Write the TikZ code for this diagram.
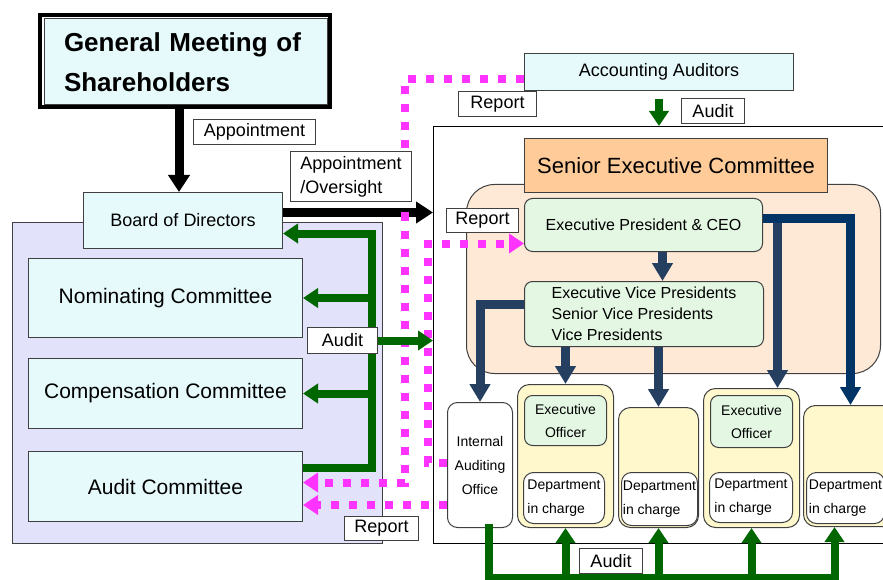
\documentclass[tikz,border=0pt]{standalone}
\usepackage{fontspec}
\setmainfont{Liberation Sans}
\usetikzlibrary{arrows.meta}
\newcommand\fsz[2]{\fontsize{#1}{#2}\selectfont}
\definecolor{paleblue}{HTML}{E6FAFC}
\definecolor{lavender}{HTML}{E2E2FA}
\definecolor{peach}{HTML}{FDE9D6}
\definecolor{orangebg}{HTML}{FFCC99}
\definecolor{palegreen}{HTML}{E3F7E3}
\definecolor{paleyellow}{HTML}{FFF8CC}
\definecolor{auditgreen}{HTML}{006600}
\definecolor{reportpink}{HTML}{FF33FF}
\definecolor{navy}{HTML}{243F60}
\definecolor{darknavy}{HTML}{003366}
\definecolor{edge}{HTML}{404040}
\tikzset{
  block/.style={draw=edge, fill=paleblue, anchor=north west, inner sep=0pt},
  roundblock/.style={block, fill=palegreen, rounded corners=8pt},
  unitbox/.style={block, fill=paleyellow, rounded corners=12pt},
  deptbox/.style={block, fill=white, rounded corners=10pt, align=left, font=\fsz{14}{24}},
  tag/.style={block, fill=white, font=\fsz{18}{24}},
  shaft/.style={line width=9pt, -{Triangle[width=21pt,length=17pt]}},
  audit/.style={auditgreen, line width=8pt},
  auditarrow/.style={audit, -{Triangle[width=19pt,length=15pt]}},
  mgmt/.style={navy, line width=9pt, -{Triangle[width=20pt,length=18pt]}},
  report/.style={reportpink, line width=8pt, dash pattern=on 8pt off 10pt, -{Triangle[width=19pt,length=15pt]}}
}
\begin{document}
\begin{tikzpicture}[x=1pt, y=-1pt, line width=1pt]
\useasboundingbox (0,0) rectangle (883,580);

\node[draw=edge, fill=lavender, anchor=north west, minimum width=370pt, minimum height=321pt] (cmtarea) at (12,222) {};
\node[draw=black, anchor=north west, minimum width=480pt, minimum height=417pt] (exec) at (433,126) {};
\node[draw=edge, fill=peach, rounded corners=28pt, anchor=north west, minimum width=414pt, minimum height=189pt] (secarea) at (466,184) {};

\node[block, minimum width=283pt, minimum height=85.5pt, text width=243pt, inner xsep=20pt, align=left, font=\fsz{26}{40}\bfseries] (gm) at (43.5,18.5) {General Meeting of\\Shareholders};
\draw[line width=4pt] ([shift={(-3.5,-3.5)}]gm.north west) rectangle ([shift={(2.5,2)}]gm.south east);

\node[block, minimum width=199pt, minimum height=56pt, font=\fsz{18}{22}] (bod) at (83,192) {Board of Directors};
\node[block, minimum width=274pt, minimum height=79pt, font=\fsz{21}{25}] (nom) at (28,258) {Nominating Committee};
\node[block, minimum width=274pt, minimum height=70pt, font=\fsz{21}{25}] (comp) at (28,358) {Compensation Committee};
\node[block, minimum width=274pt, minimum height=70pt, font=\fsz{21}{25}] (audc) at (28,451) {Audit Committee};

\node[block, minimum width=269pt, minimum height=37pt, font=\fsz{18}{22}] (acc) at (524,53) {Accounting Auditors};
\node[block, fill=orangebg, minimum width=303pt, minimum height=54pt, font=\fsz{22}{26}] (sec) at (524,138) {Senior Executive Committee};
\node[roundblock, minimum width=238pt, minimum height=53pt, font=\fsz{16}{20}] (ceo) at (524,198) {Executive President \& CEO};
\node[roundblock, minimum width=239pt, minimum height=65pt, align=left, font=\fsz{16}{21}] (evp) at (524,281) {Executive Vice Presidents\\Senior Vice Presidents\\Vice Presidents};

\node[block, fill=white, rounded corners=10pt, minimum width=65pt, minimum height=125pt, align=center, font=\fsz{14}{24}] (ia) at (447,402) {Internal\\Auditing\\Office};
\node[unitbox, minimum width=96pt, minimum height=143pt] (yb1) at (517,384) {};
\node[unitbox, minimum width=80pt, minimum height=120pt] (yb2) at (618,407) {};
\node[unitbox, minimum width=96pt, minimum height=139pt] (yb3) at (703,388) {};
\node[unitbox, minimum width=94pt, minimum height=121pt] (yb4) at (803,405) {};
\node[roundblock, minimum width=82pt, minimum height=50pt, align=center, font=\fsz{14}{23}] (eo1) at (524,395) {Executive\\Officer};
\node[roundblock, minimum width=82pt, minimum height=52pt, align=center, font=\fsz{14}{23}] (eo2) at (710,395) {Executive\\Officer};
\node[deptbox, minimum width=81pt, minimum height=51pt] (dp1) at (523,472) {Department\\in charge};
\node[deptbox, minimum width=76pt, minimum height=53pt] (dp2) at (621,472) {Department\\in charge};
\node[deptbox, minimum width=83pt, minimum height=50pt] (dp3) at (709,472) {Department\\in charge};
\node[deptbox, minimum width=78pt, minimum height=51pt] (dp4) at (806,472) {Department\\in charge};

\coordinate (a1) at ([xshift=-4pt]bod.north);
\draw[shaft] (a1 |- gm.south) -- (a1);
\coordinate (a2) at ([yshift=8pt]bod.east);
\draw[shaft] (a2) -- (a2 -| exec.west);

\coordinate (g0) at ([yshift=19pt]audc.east);
\coordinate (trunk) at ([xshift=89pt,yshift=-13pt]bod.east);
\draw[auditarrow] (g0) -| (trunk) -- (trunk -| bod.east);
\draw[auditarrow] (trunk |- nom.east) -- (nom.east);
\draw[auditarrow] (trunk |- comp.east) -- (comp.east);
\draw[auditarrow] ([yshift=-8pt]acc.south) -- (acc.south |- exec.north);

\coordinate (g2) at ([xshift=9pt]ia.south);
\coordinate (g3) at ([yshift=-50pt]g2);
\coordinate (g4) at ([xshift=-16pt]yb4.south);
\draw[audit, line cap=rect] (g2) -- (g3) -- (g3 -| g4);
\foreach \b in {yb1,yb2,yb3}
  \draw[auditarrow] (g3 -| \b.south) -- (\b.south);
\draw[auditarrow] (g3 -| g4) -- (g4);

\coordinate (b0) at ([xshift=19pt]ceo.south);
\draw[mgmt] (b0) -- (b0 |- evp.north);
\coordinate (b1) at ([yshift=10pt]evp.west);
\draw[mgmt] (b1) -| (ia.north);
\draw[mgmt] (yb1.north |- evp.south) -- (yb1.north);
\draw[mgmt] (yb2.north |- evp.south) -- (yb2.north);
\coordinate (b2) at ([yshift=7pt]ceo.east);
\coordinate (b3) at ([xshift=26pt]yb3.north);
\draw[mgmt] (b3 |- b2) -- (b3);
\draw[mgmt, darknavy] (b2) -| (yb4.north);

\coordinate (p0) at ([yshift=-7.5pt]acc.west);
\coordinate (p1) at ([yshift=4pt]audc.east);
\coordinate (pv) at ([xshift=-28pt]exec.west);
\draw[report] (p0) -| (pv |- p1) -- (p1);
\coordinate (p2) at ([yshift=2.5pt]ia.west);
\coordinate (p3) at ([yshift=-18.5pt]ceo.west);
\draw[report] (p2) -- ++(-19,0) |- (p3);
\coordinate (p4) at ([yshift=-40pt]ia.west);
\draw[report] (p4) -- (p4 -| audc.east);

\node[tag, minimum width=122pt, minimum height=25pt] (tapp) at (193,119) {Appointment};
\node[tag, minimum width=121pt, minimum height=50pt, align=left] (tover) at (290,151) {Appointment\\/Oversight};
\node[tag, minimum width=78pt, minimum height=25pt] (trep1) at (458,91) {Report};
\node[tag, minimum width=63pt, minimum height=25pt] (taud1) at (681,98) {Audit};
\node[tag, minimum width=72pt, minimum height=24pt] (trep2) at (446,208) {Report};
\node[tag, minimum width=70pt, minimum height=26pt] (taud2) at (307,327) {Audit};
\node[tag, minimum width=74pt, minimum height=24pt] (trep3) at (344,516) {Report};
\node[tag, minimum width=63pt, minimum height=25pt] (taud3) at (579,548) {Audit};
\draw[auditarrow] (taud2.east) -- (taud2.east -| exec.west);
\end{tikzpicture}
\end{document}
